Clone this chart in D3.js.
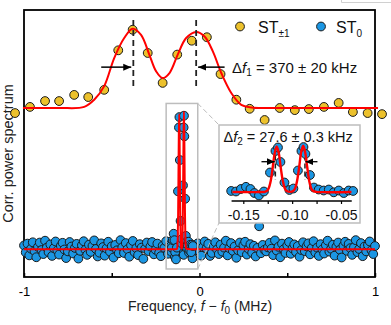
<!DOCTYPE html>
<html>
<head>
<meta charset="utf-8">
<script src="https://cdn.jsdelivr.net/npm/d3@7"></script>
<style>
    body { margin: 0; background: #fff; }
    svg { display: block; font-family: "Liberation Sans", Arial, sans-serif; }
</style>
</head>
<body>
<svg id="chart" width="391" height="325"></svg>
<script>
// ST±1 spectrum (yellow), MHz vs arb. units
const st1Freq = [-1.051, -0.966, -0.880, -0.800, -0.714, -0.634, -0.543, -0.463, -0.381, -0.295, -0.210, -0.127, -0.044,
    0.042, 0.120, 0.210, 0.286, 0.371, 0.457, 0.543, 0.623, 0.709, 0.793, 0.874, 0.958, 1.040]
const st1Power = [61.4, 63.7, 65.9, 65.9, 68.2, 67.4, 70.1, 84.9, 92.6, 83.9, 72.7, 83.3, 88.5,
    89.8, 76.0, 66.4, 63.0, 58.8, 63.3, 62.5, 62.9, 63.7, 65.2, 61.8, 61.4, 61.0]

// fit through ST±1
const st1FitFreq = [-1.006, -0.8, -0.657, -0.6, -0.543, -0.486, -0.429, -0.381, -0.333, -0.286, -0.247, -0.21,
    -0.171, -0.124, -0.076, -0.019, 0.029, 0.076, 0.124, 0.181, 0.238, 0.295, 0.4, 1.017]
const st1FitPower = [63.3, 63.3, 63.7, 66.4, 71.5, 82.0, 89.5, 93.0, 90.7, 83.3, 77.0, 74.5,
    76.4, 83.3, 89.5, 91.8, 90.1, 84.5, 76.4, 68.9, 64.5, 63.5, 63.3, 63.3]

// ST0 coarse scan, one point every 10 kHz from -1 to 1 MHz
const st0Freq = d3.range(201).map(i => -1 + i * 0.01)
const st0Power = [
    11.8, 9.2, 12.5, 8.1, 10.6, 13.0, 9.7, 7.4, 11.3, 12.9, 10.1, 8.6, 13.6, 11.0, 9.3, 12.2, 7.9, 10.8, 13.3, 9.9,
    8.4, 11.7, 12.8, 10.3, 7.1, 9.6, 13.1, 11.4, 8.8, 10.9, 12.4, 6.9, 9.8, 11.9, 13.4, 10.2, 8.3, 12.1, 9.4, 11.6,
    13.7, 10.5, 7.7, 9.1, 12.6, 11.2, 8.0, 10.7, 13.2, 9.5, 11.5, 7.3, 12.0, 10.0, 8.9, 13.8, 11.1, 9.0, 12.7, 10.4,
    7.6, 11.9, 13.5, 9.3, 10.8, 8.2, 12.3, 11.0, 6.8, 10.6, 12.9, 9.7, 11.4, 13.1, 8.5, 10.2, 12.5, 9.1, 7.8, 11.7,
    10.9, 13.4, 8.7, 12.0, 9.4, 11.3, 7.5, 10.4, 12.8, 9.9, 11.8, 8.3, 13.9, 10.6, 9.2, 12.2, 7.0, 11.5, 10.1, 12.6,
    9.6, 8.0, 11.2, 13.3, 10.7, 12.4, 7.9, 9.0, 11.6, 13.0, 10.3, 8.6, 12.1, 9.5, 11.0, 13.6, 8.1, 10.8, 12.7, 9.8,
    11.4, 7.2, 10.0, 12.9, 9.3, 11.9, 13.2, 8.4, 10.5, 12.3, 9.1, 11.7, 7.7, 10.9, 19.0, 8.9, 12.0, 10.2, 9.6, 11.1,
    12.8, 10.6, 8.2, 13.7, 9.9, 11.3, 7.4, 12.5, 10.4, 9.0, 11.8, 13.1, 8.7, 10.7, 12.2, 9.4, 11.6, 7.6, 10.1, 13.0,
    9.7, 11.5, 12.6, 8.5, 10.9, 13.4, 9.2, 11.0, 7.9, 12.3, 10.3, 8.8, 11.9, 13.6, 9.5, 10.6, 12.1, 8.0, 11.3, 12.9,
    10.2, 7.3, 11.7, 13.2, 9.8, 12.4, 10.8, 8.3, 11.1, 13.8, 9.3, 10.5, 12.7, 7.8, 11.4, 9.6, 12.0, 13.3, 10.0, 8.6,
    11.6]

// ST0 fine scan around the split line (also shown in the inset)
const st0FineFreq = [-0.1624, -0.1575, -0.1524, -0.1473, -0.1427, -0.1386, -0.1340, -0.1289, -0.1227, -0.1171,
    -0.1145, -0.1120, -0.1079, -0.1028, -0.0987, -0.0941, -0.0905, -0.0884, -0.0864, -0.0818, -0.0777, -0.0728,
    -0.0677, -0.0625, -0.0574, -0.0523, -0.0472, -0.0421, -0.0376]
const st0FinePower = [11.6, 11.0, 13.8, 16.2, 13.8, 9.3, 6.6, 11.0, 32.1, 56.0,
    59.9, 43.8, 21.0, 12.7, 14.3, 34.3, 56.0, 60.4, 52.7, 29.3, 15.4, 13.2,
    12.1, 13.2, 10.1, 12.1, 9.3, 12.1, 11.6]

// fit through ST0 fine scan
const st0FitFreq = [-0.1611, -0.1324, -0.1280, -0.1260, -0.1240, -0.1219, -0.1199, -0.1178, -0.1158, -0.1137,
    -0.1117, -0.1096, -0.1076, -0.1055, -0.1023, -0.0990, -0.0969, -0.0949, -0.0928, -0.0908, -0.0887, -0.0867,
    -0.0846, -0.0826, -0.0806, -0.0785, -0.0751, -0.0393]
const st0FitPower = [10.4, 10.4, 10.6, 11.5, 14.7, 23.0, 37.7, 53.8, 61.0, 53.8,
    37.7, 23.0, 14.7, 11.5, 10.6, 11.5, 14.7, 23.2, 38.2, 54.5, 61.9, 54.5,
    38.2, 23.2, 14.7, 11.5, 10.6, 10.4]
const st0Baseline = 10.4

const peaks1 = [-0.377, -0.019]      // dashed markers, main
const peaks2 = [-0.1172, -0.0869]    // dashed markers, inset
const mainTicks = [-1, -0.5, 0, 0.5, 1]
const insetTicks = [-0.15, -0.125, -0.10, -0.075, -0.05]

const yellow = '#ecc12c'
const blue = '#1b96e3'
const red = '#ff0000'

const svg = d3.select('#chart')

const x = d3.scaleLinear().domain([-1, 1]).range([24, 375])
const y = d3.scaleLinear().domain([0, 100]).range([277, 10])

const defs = svg.append('defs')
const mk = defs.append('marker')
    .attr('id', 'head')
    .attr('markerUnits', 'userSpaceOnUse')
    .attr('markerWidth', 9).attr('markerHeight', 8)
    .attr('refX', 8).attr('refY', 4)
    .attr('orient', 'auto')
mk.append('path').attr('d', 'M0,0.5 L8,4 L0,7.5 Z').attr('fill', '#000')

// faint box corner at the top right
svg.append('path').attr('d', 'M341.5,0 V2.5 H391').attr('fill', 'none').attr('stroke', '#d0d0d0').attr('stroke-width', 1)

// frame
svg.append('rect')
    .attr('x', 24).attr('y', 10).attr('width', 351).attr('height', 267)
    .attr('fill', 'none').attr('stroke', '#000').attr('stroke-width', 1.8)

const xAxis = svg.append('g')
    .attr('transform', 'translate(0,277)')
    .call(d3.axisBottom(x).tickValues(mainTicks).tickSizeInner(-4).tickSizeOuter(0).tickPadding(10)
        .tickFormat(d => d === -1 ? '-1' : (d === 0 || d === 1) ? String(d) : ''))
xAxis.select('.domain').remove()
xAxis.selectAll('line').attr('stroke', '#000').attr('stroke-width', 1.5)
xAxis.selectAll('text').attr('font-size', 13).attr('fill', '#000')
    .attr('font-family', '"Liberation Sans", Arial, sans-serif')

// axis titles
const xt = svg.append('text').attr('x', 200).attr('y', 311).attr('text-anchor', 'middle')
    .attr('font-size', 14).attr('fill', '#222')
xt.append('tspan').text('Frequency, ')
xt.append('tspan').attr('font-style', 'italic').text('f')
xt.append('tspan').text(' \u2212 ')
xt.append('tspan').attr('font-style', 'italic').text('f')
xt.append('tspan').attr('font-size', 10).attr('dy', 3).text('0')
xt.append('tspan').attr('dy', -3).text(' (MHz)')

svg.append('text')
    .attr('transform', 'translate(12.5,153.5) rotate(-90)')
    .attr('text-anchor', 'middle').attr('font-size', 14.5).attr('fill', '#222')
    .text('Corr. power spectrum')

const line = d3.line().x(d => x(d[0])).y(d => y(d[1]))

// ST0 coarse + fine points
const st0All = st0Freq.map((f, i) => [f, st0Power[i]])
    .concat(st0FineFreq.map((f, i) => [f, st0FinePower[i]]))
svg.append('g').selectAll('circle')
    .data(st0All)
    .join('circle')
    .attr('cx', d => x(d[0])).attr('cy', d => y(d[1])).attr('r', 4.4)
    .attr('fill', blue).attr('stroke', '#1a1a1a').attr('stroke-width', 1)

// ST0 fit
const st0Fit = [[-1, st0Baseline]]
    .concat(st0FitFreq.map((f, i) => [f, st0FitPower[i]]))
    .concat([[1, st0Baseline]])
svg.append('path')
    .datum(st0Fit)
    .attr('d', line.curve(d3.curveMonotoneX))
    .attr('fill', 'none').attr('stroke', red).attr('stroke-width', 2)

// ST±1 points
svg.append('g').selectAll('circle')
    .data(st1Freq.map((f, i) => [f, st1Power[i]]))
    .join('circle')
    .attr('cx', d => x(d[0])).attr('cy', d => y(d[1])).attr('r', 4.4)
    .attr('fill', yellow).attr('stroke', '#1a1a1a').attr('stroke-width', 1)

// ST±1 fit
svg.append('path')
    .datum(st1FitFreq.map((f, i) => [f, st1FitPower[i]]))
    .attr('d', line.curve(d3.curveCatmullRom.alpha(0.5)))
    .attr('fill', 'none').attr('stroke', red).attr('stroke-width', 2)

// dashed peak markers + arrows
svg.selectAll('.peak1')
    .data(peaks1)
    .join('line')
    .attr('class', 'peak1')
    .attr('x1', d => x(d)).attr('x2', d => x(d))
    .attr('y1', y(96.3)).attr('y2', y(70))
    .attr('stroke', '#222').attr('stroke-width', 1.8).attr('stroke-dasharray', '6,4')

svg.append('line')
    .attr('x1', x(-0.56)).attr('x2', x(-0.389)).attr('y1', y(78.6)).attr('y2', y(78.6))
    .attr('stroke', '#000').attr('stroke-width', 1.5).attr('marker-end', 'url(#head)')
svg.append('line')
    .attr('x1', x(0.143)).attr('x2', x(-0.008)).attr('y1', y(78.6)).attr('y2', y(78.6))
    .attr('stroke', '#000').attr('stroke-width', 1.5).attr('marker-end', 'url(#head)')

const d1 = svg.append('text').attr('x', 232).attr('y', 73).attr('font-size', 15).attr('fill', '#111')
d1.append('tspan').text('\u0394')
d1.append('tspan').attr('font-style', 'italic').text('f')
d1.append('tspan').attr('font-size', 10).attr('dy', 3).text('1')
d1.append('tspan').attr('dy', -3).text(' = 370 \u00b1 20 kHz')

// legend
const legend = [
    { c: yellow, cx: 240, tx: 258, sub: '\u00b11' },
    { c: blue, cx: 321, tx: 336, sub: '0' }
]
for (let l of legend) {
    svg.append('circle').attr('cx', l.cx).attr('cy', 26.5).attr('r', 4.4)
        .attr('fill', l.c).attr('stroke', '#1a1a1a').attr('stroke-width', 1)
    const t = svg.append('text').attr('x', l.tx).attr('y', 33).attr('font-size', 16).attr('fill', '#111')
    t.append('tspan').text('ST')
    t.append('tspan').attr('font-size', 10).attr('dy', 4).text(l.sub)
}

// zoom box and connectors
const zb = { x0: x(-0.19), x1: x(-0.01), y0: y(65), y1: y(3) }
svg.append('rect')
    .attr('x', zb.x0).attr('y', zb.y0).attr('width', zb.x1 - zb.x0).attr('height', zb.y1 - zb.y0)
    .attr('fill', 'none').attr('stroke', '#bdbdbd').attr('stroke-width', 1.5)

const inset = { left: 219, right: 360, top: 125, bottom: 223 }
svg.append('line').attr('x1', zb.x1).attr('y1', zb.y0).attr('x2', inset.left).attr('y2', inset.top)
    .attr('stroke', '#bdbdbd').attr('stroke-width', 1).attr('stroke-dasharray', '5,3')
svg.append('line').attr('x1', zb.x1).attr('y1', zb.y1).attr('x2', inset.left).attr('y2', inset.bottom)
    .attr('stroke', '#bdbdbd').attr('stroke-width', 1).attr('stroke-dasharray', '5,3')

// inset
svg.append('rect')
    .attr('x', inset.left).attr('y', inset.top)
    .attr('width', inset.right - inset.left).attr('height', inset.bottom - inset.top)
    .attr('fill', '#fff').attr('stroke', '#bdbdbd').attr('stroke-width', 1.5)

const ix = d3.scaleLinear().domain([-0.15, -0.05]).range([243.3, 341])
const iy = d3.scaleLinear().domain([0, 62]).range([201.4, 145.6])

const iAxis = svg.append('g')
    .attr('transform', 'translate(0,201)')
    .call(d3.axisBottom(ix).tickValues(insetTicks).tickSizeInner(3).tickSizeOuter(0).tickPadding(6)
        .tickFormat(d => (Math.abs(d * 40) % 2 < 0.5) ? d.toFixed(2).replace('\u2212', '-') : ''))
iAxis.select('.domain').remove()
iAxis.append('line').attr('x1', ix(-0.162)).attr('x2', ix(-0.039)).attr('stroke', '#000').attr('stroke-width', 1.5)
iAxis.selectAll('.tick line').attr('stroke', '#000').attr('stroke-width', 1.2)
iAxis.selectAll('text').attr('font-size', 14).attr('fill', '#111')
    .attr('font-family', '"Liberation Sans", Arial, sans-serif')

svg.selectAll('.peak2')
    .data(peaks2)
    .join('line')
    .attr('class', 'peak2')
    .attr('x1', d => ix(d)).attr('x2', d => ix(d))
    .attr('y1', iy(60)).attr('y2', iy(24))
    .attr('stroke', '#222').attr('stroke-width', 1.5).attr('stroke-dasharray', '5,3')

const iline = d3.line().x(d => ix(d[0])).y(d => iy(d[1]))

svg.append('g').selectAll('circle')
    .data(st0FineFreq.map((f, i) => [f, st0FinePower[i]]))
    .join('circle')
    .attr('cx', d => ix(d[0])).attr('cy', d => iy(d[1])).attr('r', 4.4)
    .attr('fill', blue).attr('stroke', '#1a1a1a').attr('stroke-width', 1)

svg.append('path')
    .datum(st0FitFreq.map((f, i) => [f, st0FitPower[i]]))
    .attr('d', iline.curve(d3.curveCatmullRom.alpha(0.5)))
    .attr('fill', 'none').attr('stroke', red).attr('stroke-width', 2.4)

svg.append('line')
    .attr('x1', ix(-0.1314)).attr('x2', ix(-0.1178)).attr('y1', 161.7).attr('y2', 161.7)
    .attr('stroke', '#000').attr('stroke-width', 1.3).attr('marker-end', 'url(#head)')
svg.append('line')
    .attr('x1', ix(-0.0741)).attr('x2', ix(-0.0864)).attr('y1', 161.7).attr('y2', 161.7)
    .attr('stroke', '#000').attr('stroke-width', 1.3).attr('marker-end', 'url(#head)')

const d2 = svg.append('text').attr('x', 223.5).attr('y', 142).attr('font-size', 14.5).attr('fill', '#111')
d2.append('tspan').text('\u0394')
d2.append('tspan').attr('font-style', 'italic').text('f')
d2.append('tspan').attr('font-size', 10).attr('dy', 3).text('2')
d2.append('tspan').attr('dy', -3).text(' = 27.6 \u00b1 0.3 kHz')
</script>
</body>
</html>
